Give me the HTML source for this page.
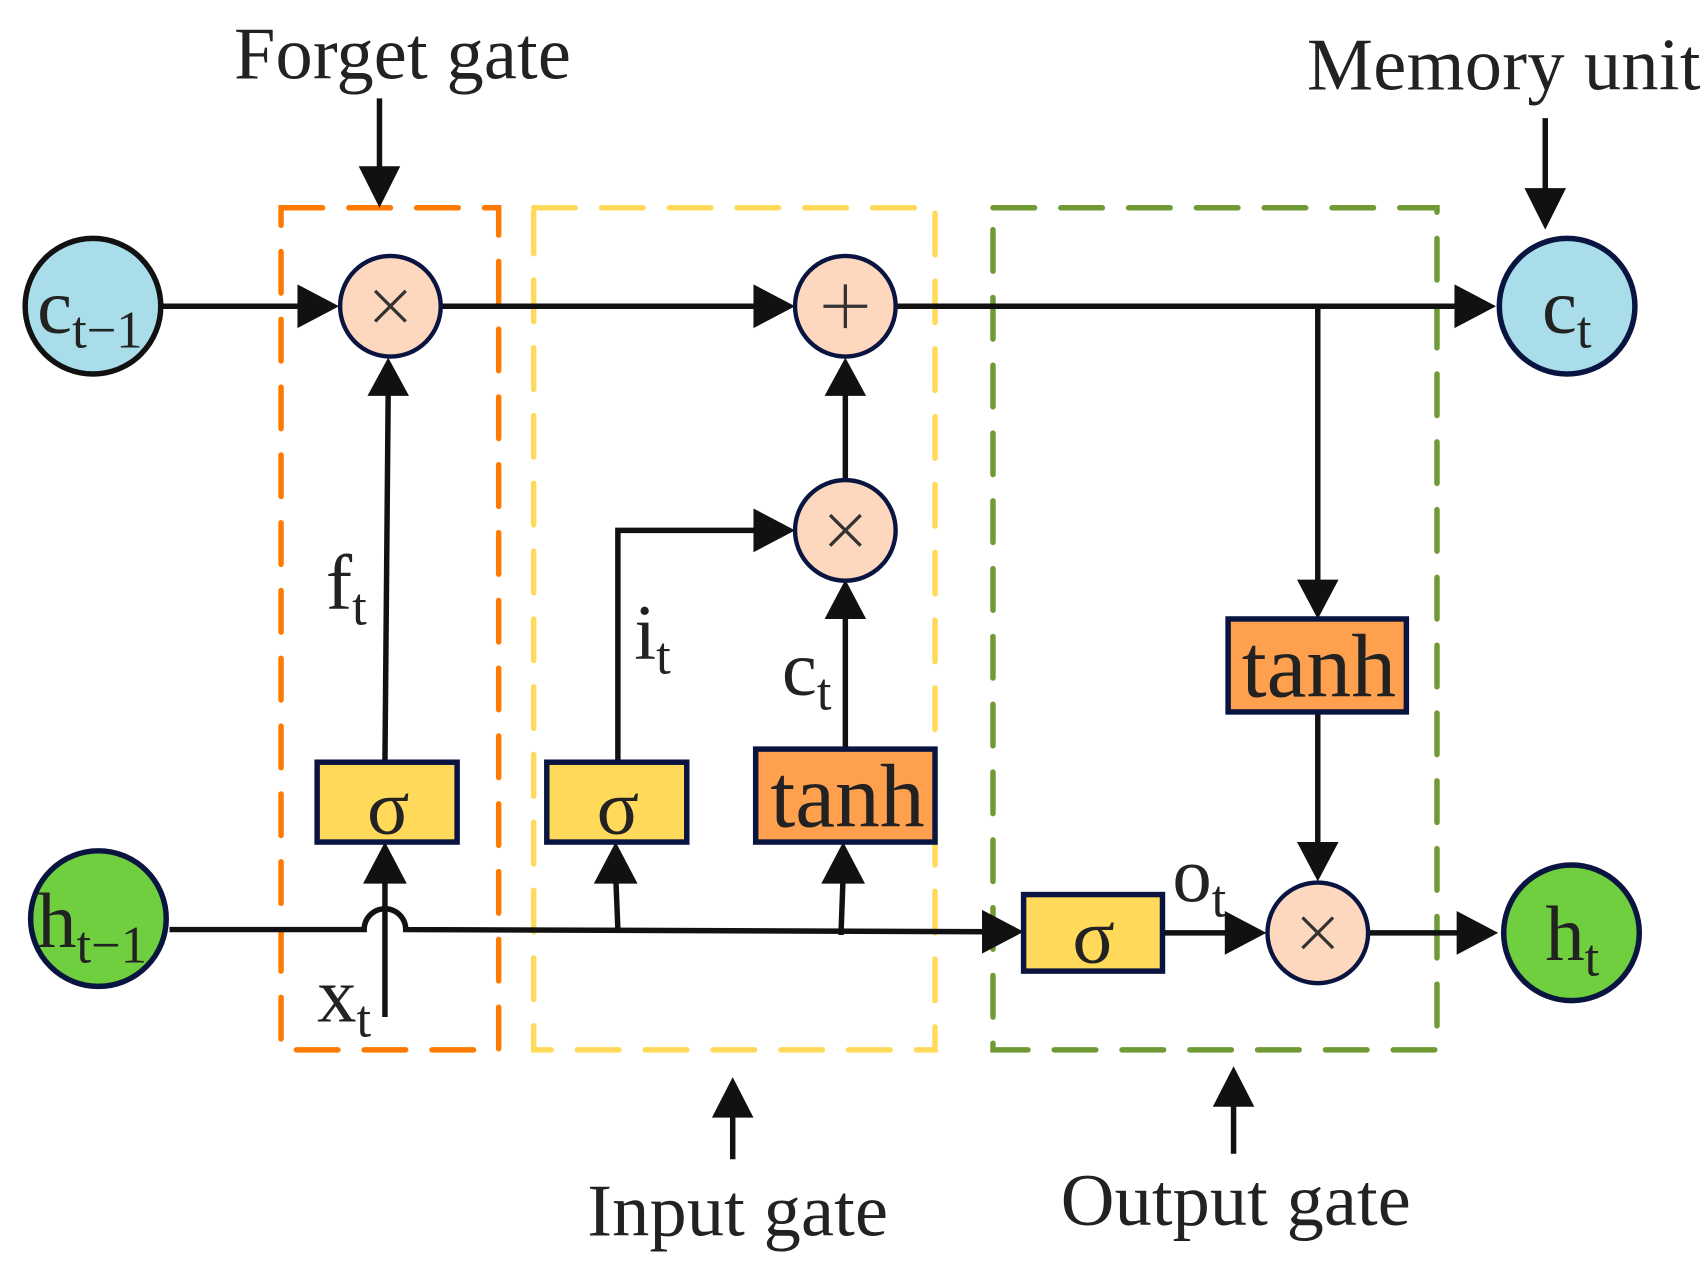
<!DOCTYPE html>
<html><head><meta charset="utf-8"><style>html,body{margin:0;padding:0;background:#fff}svg{display:block}</style></head>
<body>
<svg width="1706" height="1262" viewBox="0 0 1560 1154" preserveAspectRatio="none" xmlns="http://www.w3.org/2000/svg" font-family="Liberation Serif, serif" fill="#222">
<rect x="257" y="190" width="199" height="770" fill="none" stroke="#ff7a00" stroke-width="5" stroke-dasharray="38,24" stroke-linecap="round"/>
<rect x="488" y="190" width="367" height="770" fill="none" stroke="#ffd95a" stroke-width="5" stroke-dasharray="38,24" stroke-linecap="round"/>
<rect x="908" y="190" width="406" height="770" fill="none" stroke="#6f9a34" stroke-width="5" stroke-dasharray="38,24" stroke-linecap="round"/>

<g stroke="#111" stroke-width="5" fill="none">
<line x1="148" y1="280" x2="290" y2="280"/>
<line x1="403" y1="280" x2="700" y2="280"/>
<line x1="820" y1="280" x2="1340" y2="280"/>
<line x1="352" y1="697" x2="355" y2="355"/>
<polyline points="565,697 565,485 700,485"/>
<line x1="773" y1="685" x2="773" y2="560"/>
<line x1="773" y1="440" x2="773" y2="355"/>
<line x1="1205" y1="280" x2="1205" y2="540"/>
<line x1="1205" y1="651" x2="1205" y2="780"/>
<path d="M155 850 L333 850 A19 19 0 0 1 371 850 L910 852"/>
<line x1="352" y1="930" x2="352" y2="800"/>
<line x1="565" y1="850" x2="563" y2="800"/>
<line x1="769" y1="855" x2="771" y2="800"/>
<line x1="1063" y1="853" x2="1130" y2="853"/>
<line x1="1252" y1="853" x2="1343" y2="853"/>
<line x1="347" y1="90" x2="347" y2="160"/>
<line x1="1413" y1="108" x2="1413" y2="180"/>
<line x1="670" y1="1060" x2="670" y2="1010"/>
<line x1="1128" y1="1055" x2="1128" y2="1000"/>
</g>
<g fill="#111">
<polygon points="310,280 272,260 272,300"/>
<polygon points="727,280 689,260 689,300"/>
<polygon points="1368,280 1330,260 1330,300"/>
<polygon points="355,327 336,362 374,362"/>
<polygon points="727,485 689,465 689,505"/>
<polygon points="773,530 754,566 792,566"/>
<polygon points="773,327 754,362 792,362"/>
<polygon points="1205,566 1186,530 1224,530"/>
<polygon points="1205,806 1186,770 1224,770"/>
<polygon points="352,770 332,808 372,808"/>
<polygon points="563,770 543,808 583,808"/>
<polygon points="771,770 751,808 791,808"/>
<polygon points="936,852 898,832 898,872"/>
<polygon points="1158,853 1120,833 1120,873"/>
<polygon points="1370,853 1332,833 1332,873"/>
<polygon points="347,190 328,152 366,152"/>
<polygon points="1413,210 1394,172 1432,172"/>
<polygon points="670,985 651,1022 689,1022"/>
<polygon points="1128,975 1109,1012 1147,1012"/>
</g>

<ellipse cx="85" cy="280" rx="62" ry="62" fill="#a8dde9" stroke="#111" stroke-width="5"/>
<ellipse cx="1433" cy="280" rx="62" ry="62" fill="#a8dde9" stroke="#0a1440" stroke-width="5"/>
<ellipse cx="90" cy="840" rx="62" ry="62" fill="#6fcf3f" stroke="#0a1440" stroke-width="5"/>
<ellipse cx="1437" cy="853" rx="62" ry="62" fill="#6fcf3f" stroke="#0a1440" stroke-width="5"/>
<g fill="#fdd8bf" stroke="#0a1440" stroke-width="4">
<circle cx="357" cy="280" r="46"/><circle cx="773" cy="280" r="46"/><circle cx="773" cy="485" r="46"/><circle cx="1205" cy="853" r="46"/>
</g>
<g stroke="#333" stroke-width="3">
<path d="M343 266 L371 294 M371 266 L343 294"/>
<path d="M759 471 L787 499 M787 471 L759 499"/>
<path d="M1191 839 L1219 867 M1219 839 L1191 867"/>
<path d="M753 280 L793 280 M773 260 L773 300"/>
</g>

<g stroke="#0a1440" stroke-width="5">
<rect x="290" y="697" width="128" height="73" fill="#ffd95a"/>
<rect x="500" y="697" width="128" height="73" fill="#ffd95a"/>
<rect x="936" y="818" width="127" height="70" fill="#ffd95a"/>
<rect x="691" y="685" width="164" height="85" fill="#ffa04f"/>
<rect x="1123" y="566" width="163" height="85" fill="#ffa04f"/>
</g>
<g font-size="72" text-anchor="middle">
<text x="355" y="762">σ</text><text x="565" y="762">σ</text><text x="1000" y="880">σ</text>
</g>
<g font-size="82" text-anchor="middle">
<text x="775" y="756">tanh</text><text x="1206" y="637">tanh</text>
</g>

<g font-size="68">
<text x="214" y="72" textLength="308">Forget gate</text>
<text x="1195" y="82" textLength="360">Memory unit</text>
<text x="537" y="1130" textLength="275">Input gate</text>
<text x="970" y="1120" textLength="320">Output gate</text>
</g>
<g font-size="72">
<text x="34" y="304">c<tspan font-size="48" dy="14">t−1</tspan></text>
<text x="1410" y="304">c<tspan font-size="48" dy="14">t</tspan></text>
<text x="34" y="866">h<tspan font-size="48" dy="14">t−1</tspan></text>
<text x="1413" y="878">h<tspan font-size="48" dy="14">t</tspan></text>
<text x="298" y="557">f<tspan font-size="48" dy="14">t</tspan></text>
<text x="580" y="602">i<tspan font-size="48" dy="14">t</tspan></text>
<text x="715" y="635">c<tspan font-size="48" dy="14">t</tspan></text>
<text x="1072" y="824">o<tspan font-size="48" dy="14">t</tspan></text>
<text x="290" y="934">x<tspan font-size="48" dy="14">t</tspan></text>
</g>
</svg>
</body></html>
